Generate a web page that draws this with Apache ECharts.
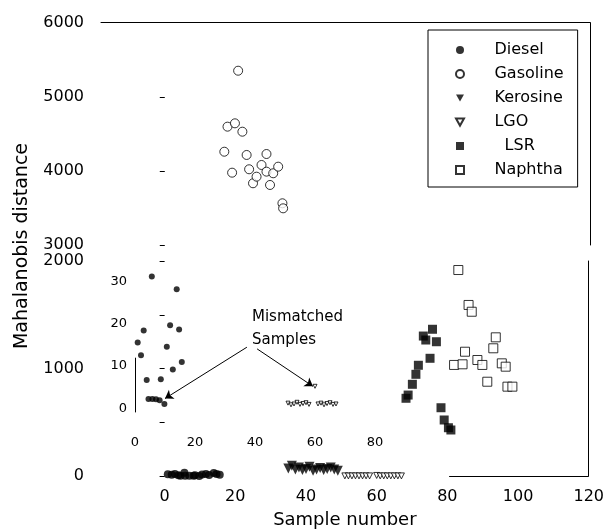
<!DOCTYPE html>
<html>
<head>
<meta charset="utf-8">
<script src="https://cdn.jsdelivr.net/npm/echarts@6/dist/echarts.min.js"></script>
<style>
  html, body { margin: 0; padding: 0; background: #fff; }
  #chart { width: 607px; height: 530px; }
</style>
</head>
<body>
<div id="chart"></div>
<script>
// tick labels
const sampleTicks = [0, 20, 40, 60, 80, 100, 120];
const insetXTicks = [0, 20, 40, 60, 80];
const insetYTicks = [0, 10, 20, 30];
const upperTicks = [3000, 4000, 5000, 6000];
const lowerLabels = [0, 1000, 2000];
const lowerTicks = [0, 500, 1000, 1500, 2000];

// [sample number, Mahalanobis distance]
const diesel = [
  [0.9, 15.6], [2.0, 12.6], [2.9, 18.5], [3.9, 6.7], [4.5, 2.2], [5.6, 31.3],
  [5.8, 2.2], [7.0, 2.1], [8.2, 1.9], [8.6, 6.9], [9.8, 1.0], [10.6, 14.6],
  [11.7, 19.7], [12.6, 9.2], [13.9, 28.3], [14.7, 18.7], [15.6, 11.0]
];
const gasoline = [
  [16.8, 4259], [17.7, 4597], [19.0, 3976], [19.8, 4642], [20.7, 5352], [21.9, 4529],
  [23.1, 4215], [23.8, 4022], [24.9, 3833], [25.9, 3922], [27.3, 4080], [28.7, 4228],
  [28.7, 3990], [29.7, 3810], [30.6, 3968], [32.0, 4057], [33.2, 3563], [33.4, 3495]
];
const kerosine = [
  [35, 70], [36, 95], [37, 60], [38, 80], [39, 55], [40, 65], [41, 85], [42, 50],
  [43, 60], [44, 75], [45, 55], [46, 65], [47, 80], [48, 60], [49, 50]
];
const lgo = [
  [51, 1.2], [52, 0.8], [53, 1.0], [54, 1.4], [55, 0.9], [56, 1.1], [57, 1.3], [58, 0.9],
  [60, 5.2], [61, 1.0], [62, 1.2], [63, 0.8], [64, 1.1], [65, 1.3], [66, 0.9], [67, 1.0]
];
const lsr = [
  [68.3, 723], [68.9, 753], [70.1, 853], [71.1, 946], [71.8, 1030], [73.2, 1302],
  [73.9, 1265], [75.1, 1095], [75.8, 1365], [76.9, 1249], [78.2, 635], [79.1, 521],
  [80.3, 449], [81.0, 428]
];
const naphtha = [
  [81.9, 1033], [83.1, 1916], [84.3, 1039], [85.0, 1156], [86.0, 1591], [86.9, 1528],
  [88.5, 1079], [89.9, 1033], [91.3, 877], [93.0, 1188], [93.7, 1290], [95.4, 1048],
  [96.5, 1017], [97.0, 831], [98.4, 831]
];

const FONT = 'DejaVu Sans';
const black = '#000';
const hollow = { color: '#fff', borderColor: black, borderWidth: 1 };
const solid = { color: black };
const plain = function (v) { return String(v); };
const downTriangle = 'path://M0,0 L10,0 L5,9 Z';

const chart = echarts.init(document.getElementById('chart'));

const hiddenAxis = {
  axisLine: { show: false }, axisTick: { show: false },
  axisLabel: { show: false }, splitLine: { show: false }
};

chart.setOption({
  animation: false,
  backgroundColor: '#fff',
  textStyle: { fontFamily: FONT, color: black },
  grid: [
    { left: 101, width: 489, top: 22.7, height: 222.3 },   // 3000-6000
    { left: 101, width: 489, top: 261, height: 215 },      // 0-2000
    { left: 135, width: 240, top: 269.4, height: 155.6 }   // inset
  ],
  xAxis: [
    Object.assign({}, hiddenAxis, {
      gridIndex: 0, type: 'value', min: -18, max: 120, position: 'top',
      axisLine: { show: true, lineStyle: { color: black, width: 1 } }
    }),
    {
      gridIndex: 1, type: 'value', min: -18, max: 120,
      axisLine: { show: false }, axisTick: { show: false }, splitLine: { show: false },
      axisLabel: { customValues: sampleTicks, formatter: plain, margin: 13, fontSize: 16, color: black, fontFamily: FONT },
      name: 'Sample number', nameLocation: 'middle', nameGap: 35,
      nameTextStyle: { fontSize: 18, color: black, fontFamily: FONT }
    },
    {
      gridIndex: 2, type: 'value', min: 0, max: 80,
      axisLine: { show: false }, axisTick: { show: false }, splitLine: { show: false },
      axisLabel: { customValues: insetXTicks, formatter: plain, margin: 11, fontSize: 13, color: black, fontFamily: FONT }
    }
  ],
  yAxis: [
    {
      gridIndex: 0, type: 'value', min: 3000, max: 6000,
      axisLine: { show: false }, splitLine: { show: false },
      axisTick: { customValues: upperTicks, length: 5, lineStyle: { color: black } },
      axisLabel: { customValues: upperTicks, formatter: plain, margin: 17, fontSize: 16, color: black, fontFamily: FONT }
    },
    Object.assign({}, hiddenAxis, {
      gridIndex: 0, type: 'value', min: 3000, max: 6000, position: 'right',
      axisLine: { show: true, lineStyle: { color: black, width: 1 } }
    }),
    {
      gridIndex: 1, type: 'value', min: 0, max: 2000,
      axisLine: { show: false }, splitLine: { show: false },
      axisTick: { customValues: lowerTicks, length: 5, lineStyle: { color: black } },
      axisLabel: { customValues: lowerLabels, formatter: plain, margin: 17, fontSize: 16, color: black, fontFamily: FONT }
    },
    Object.assign({}, hiddenAxis, {
      gridIndex: 1, type: 'value', min: 0, max: 2000, position: 'right',
      axisLine: { show: true, lineStyle: { color: black, width: 1 } }
    }),
    {
      gridIndex: 2, type: 'value', min: -4, max: 33,
      axisLine: { show: false }, axisTick: { show: false }, splitLine: { show: false },
      axisLabel: { customValues: insetYTicks, formatter: plain, margin: 8, fontSize: 13, color: black, fontFamily: FONT }
    }
  ],
  legend: {
    orient: 'vertical', left: 428, top: 30,
    padding: [12, 14, 9, 27],
    borderColor: black, borderWidth: 1,
    itemWidth: 8, itemHeight: 8, itemGap: 8,
    textStyle: { fontSize: 16, lineHeight: 16, color: black, fontFamily: FONT },
    // the gap between mark and name is wide in the original
    formatter: function (name) { return (name === 'LSR' ? '       ' : '     ') + name; },
    data: [
      'Diesel', 'Gasoline',
      { name: 'Kerosine', icon: downTriangle },
      { name: 'LGO', icon: downTriangle },
      'LSR', 'Naphtha'
    ]
  },
  graphic: [
    {
      type: 'text', x: 22, y: 246, rotation: Math.PI / 2,
      style: { text: 'Mahalanobis distance', font: '19px "DejaVu Sans"', fill: black, align: 'center', verticalAlign: 'middle' }
    },
    {
      type: 'text', left: 252, top: 306,
      style: { text: 'Mismatched\nSamples', font: '15px "DejaVu Sans"', lineHeight: 23, fill: black }
    }
  ],
  series: [
    {
      name: 'Diesel', type: 'scatter', xAxisIndex: 1, yAxisIndex: 2, clip: false,
      symbol: 'circle', symbolSize: 8, itemStyle: solid, data: diesel
    },
    {
      name: 'Gasoline', type: 'scatter', xAxisIndex: 0, yAxisIndex: 0, clip: false,
      symbol: 'circle', symbolSize: 9, itemStyle: hollow, data: gasoline
    },
    {
      name: 'Kerosine', type: 'scatter', xAxisIndex: 1, yAxisIndex: 2, clip: false,
      symbol: 'triangle', symbolRotate: 180, symbolSize: 10, itemStyle: solid, data: kerosine
    },
    {
      name: 'LGO', type: 'scatter', xAxisIndex: 1, yAxisIndex: 2, clip: false,
      symbol: 'triangle', symbolRotate: 180, symbolSize: 6, itemStyle: hollow, data: lgo
    },
    {
      name: 'LSR', type: 'scatter', xAxisIndex: 1, yAxisIndex: 2, clip: false,
      symbol: 'rect', symbolSize: 9, itemStyle: solid, data: lsr,
      markLine: {
        silent: true, symbol: 'none', label: { show: false },
        lineStyle: { color: black, width: 1, type: 'solid' },
        data: [[{ coord: [80.5, 0] }, { coord: [120, 0] }]]
      }
    },
    {
      name: 'Naphtha', type: 'scatter', xAxisIndex: 1, yAxisIndex: 2, clip: false,
      symbol: 'rect', symbolSize: 9, itemStyle: hollow, data: naphtha
    },
    // inset: zoom on the small distances
    {
      name: 'Diesel', type: 'scatter', xAxisIndex: 2, yAxisIndex: 4, clip: false,
      symbol: 'circle', symbolSize: 6, itemStyle: solid, data: diesel,
      markLine: {
        silent: true, symbol: ['none', 'arrow'], symbolSize: 8, label: { show: false },
        lineStyle: { color: black, width: 1, type: 'solid' },
        data: [
          [{ coord: [37.3, 14.5] }, { coord: [10, 2.3] }],
          [{ coord: [40.7, 14.1] }, { coord: [59.3, 5.2] }],
          [{ coord: [0, -1], symbol: 'none' }, { coord: [0, 12], symbol: 'none' }]
        ]
      }
    },
    {
      name: 'LGO', type: 'scatter', xAxisIndex: 2, yAxisIndex: 4, clip: false,
      symbol: 'triangle', symbolRotate: 180, symbolSize: 4, itemStyle: hollow, data: lgo
    }
  ]
});
</script>
</body>
</html>
